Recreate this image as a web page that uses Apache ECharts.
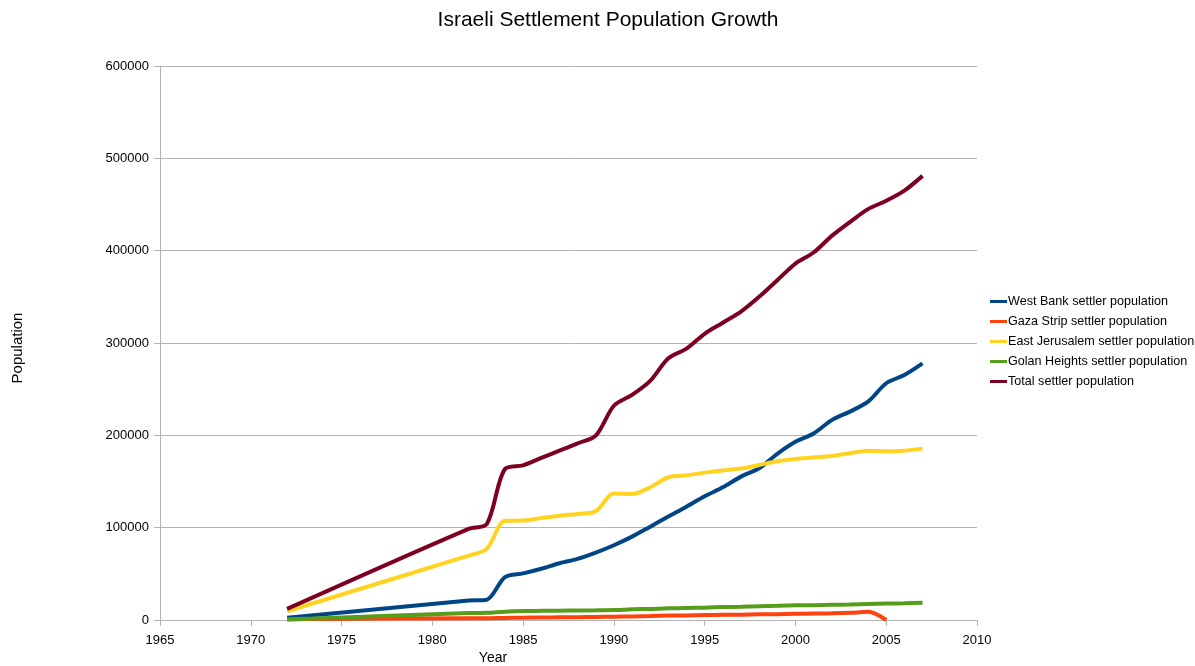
<!DOCTYPE html>
<html>
<head>
<meta charset="utf-8">
<script src="https://cdn.jsdelivr.net/npm/echarts@6/dist/echarts.min.js"></script>
<style>
html,body{margin:0;padding:0;background:#fff;}
#chart{width:1195px;height:666px;}
</style>
</head>
<body>
<div id="chart"></div>
<script>
const years = [1972, 1982, 1983, 1984, 1985, 1986, 1987, 1988, 1989, 1990, 1991, 1992, 1993, 1994, 1995, 1996, 1997, 1998, 1999, 2000, 2001, 2002, 2003, 2004, 2005, 2006, 2007];
const westBank = [2500, 21000, 22000, 46500, 50500, 55500, 61500, 66200, 73000, 81000, 90300, 101100, 112000, 122700, 134000, 143700, 155300, 164300, 180000, 193000, 202000, 216500, 225700, 236500, 256400, 265400, 278000];
const gaza = [900, 2000, 2000, 2300, 2500, 2700, 2900, 3100, 3300, 3600, 3900, 4300, 4800, 5000, 5300, 5600, 5700, 6100, 6300, 6700, 7000, 7300, 7800, 8800, 0, null, null];
const eastJerusalem = [9500, 69800, 77000, 107500, 107700, 110500, 113000, 114900, 117700, 137000, 136500, 143700, 154600, 156700, 159600, 162000, 164000, 167900, 172000, 174400, 176000, 177700, 180600, 183400, 182800, 183400, 185600];
const golan = [500, 7500, 7800, 9000, 9700, 9900, 10100, 10300, 10500, 10800, 11600, 12000, 12600, 13000, 13400, 14000, 14300, 15000, 15300, 16000, 16100, 16500, 16800, 17300, 17800, 18100, 18700];
const total = [12000, 98700, 104000, 163500, 167500, 175500, 183400, 191300, 199600, 232000, 243800, 259000, 283500, 294000, 310000, 322000, 334000, 350000, 368000, 386000, 398000, 416000, 431000, 445000, 454000, 465000, 481000];

const seriesNames = ['West Bank settler population', 'Gaza Strip settler population', 'East Jerusalem settler population', 'Golan Heights settler population', 'Total settler population'];
const seriesValues = [westBank, gaza, eastJerusalem, golan, total];
const colors = ['#004586', '#ff420e', '#ffd320', '#579d1c', '#7e0021'];

const FONT = '"Liberation Sans", Arial, sans-serif';
const chart = echarts.init(document.getElementById('chart'), null, {renderer: 'canvas'});

function pairs(arr) {
  const out = [];
  years.forEach((y, i) => { if (arr[i] !== null && arr[i] !== undefined) out.push([y, arr[i]]); });
  return out;
}

chart.setOption({
  animation: false,
  color: colors,
  legend: {
    orient: 'vertical', left: 990, top: 295, padding: 0,
    itemWidth: 17, itemHeight: 3, itemGap: 7, icon: 'rect',
    textStyle: {fontFamily: FONT, fontSize: 12.6, color: '#000', padding: [0,0,0,-4]},
    data: seriesNames
  },
  grid: {left: 160, top: 66, width: 817, height: 554, containLabel: false},
  xAxis: {
    type: 'value', min: 1965, max: 2010, interval: 5,
    axisLine: {show: true, lineStyle: {color: '#b3b3b3'}},
    axisTick: {show: true, inside: false, length: 6, lineStyle: {color: '#b3b3b3'}},
    axisLabel: {fontFamily: FONT, fontSize: 13, color: '#000', margin: 14, formatter: v => String(v)},
    splitLine: {show: false}
  },
  yAxis: {
    type: 'value', min: 0, max: 600000, interval: 100000,
    axisLine: {show: true, lineStyle: {color: '#b3b3b3'}},
    axisTick: {show: true, inside: false, length: 6, lineStyle: {color: '#b3b3b3'}},
    axisLabel: {fontFamily: FONT, fontSize: 13, color: '#000', margin: 11, formatter: v => String(v)},
    splitLine: {show: true, lineStyle: {color: '#b3b3b3', width: 1}}
  },
  graphic: [
    {type: 'text', x: 608, y: 20, style: {text: 'Israeli Settlement Population Growth', font: '21px ' + FONT, fill: '#000', textAlign: 'center', textVerticalAlign: 'middle'}},
    {type: 'text', x: 493, y: 658, style: {text: 'Year', font: '14px ' + FONT, fill: '#000', textAlign: 'center', textVerticalAlign: 'middle'}},
    {type: 'text', x: 18, y: 348, rotation: Math.PI / 2, style: {text: 'Population', font: '15px ' + FONT, fill: '#000', textAlign: 'center', textVerticalAlign: 'middle'}}
  ],
  series: seriesNames.map((name, i) => ({
    name: name,
    type: 'line',
    data: pairs(seriesValues[i]),
    showSymbol: false,
    smooth: 0.3,
    lineStyle: {width: 4, color: colors[i]},
    itemStyle: {color: colors[i]},
    z: 2
  }))
});
</script>
</body>
</html>
